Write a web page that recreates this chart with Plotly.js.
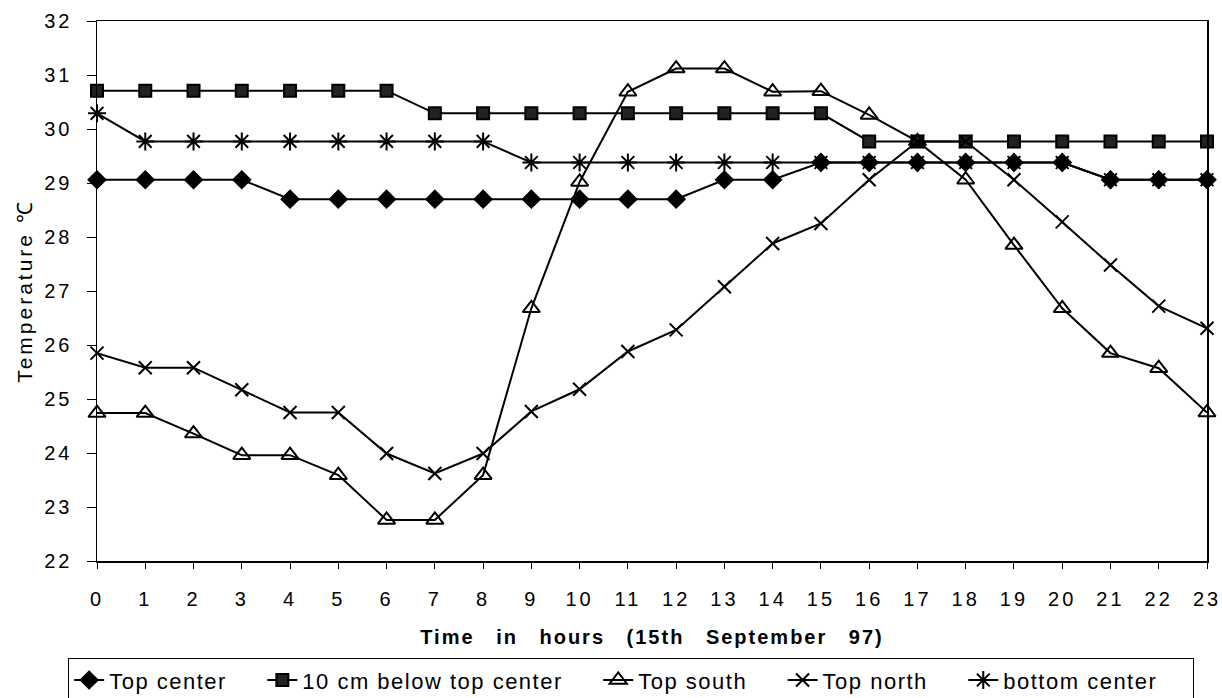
<!DOCTYPE html>
<html>
<head>
<meta charset="utf-8">
<script src="https://cdn.plot.ly/plotly-3.0.1.min.js"></script>
<style>
  html, body { margin: 0; padding: 0; background: #fff; }
  #chart { width: 1222px; height: 698px; }
  .xtick text, .ytick text { letter-spacing: 3px !important; }
  .g-xtitle text { letter-spacing: 2px; word-spacing: 14px; }
  .g-ytitle text { letter-spacing: 3px; }
  .legendtext { letter-spacing: 1.5px; }
</style>
</head>
<body>
<div id="chart"></div>
<script>
const hours = [0,1,2,3,4,5,6,7,8,9,10,11,12,13,14,15,16,17,18,19,20,21,22,23];
const seriesNames = ["Top center", "10 cm below top center", "Top south", "Top north", "bottom center"];

const topCenter = [29.06,29.06,29.06,29.06,28.70,28.70,28.70,28.70,28.70,28.70,28.70,28.70,28.70,29.06,29.06,29.38,29.38,29.38,29.38,29.38,29.38,29.06,29.06,29.06];
const below10cm = [30.71,30.71,30.71,30.71,30.71,30.71,30.71,30.29,30.29,30.29,30.29,30.29,30.29,30.29,30.29,30.29,29.77,29.77,29.77,29.77,29.77,29.77,29.77,29.77];
const topSouth  = [24.74,24.74,24.36,23.96,23.96,23.59,22.76,22.76,23.59,26.68,29.02,30.69,31.12,31.12,30.69,30.70,30.26,29.77,29.06,27.85,26.68,25.85,25.57,24.75];
const topNorth  = [25.85,25.58,25.58,25.17,24.75,24.75,23.99,23.62,23.99,24.77,25.18,25.88,26.28,27.08,27.88,28.25,29.06,29.77,29.77,29.06,28.28,27.48,26.72,26.31];
const bottomCenter = [30.29,29.77,29.77,29.77,29.77,29.77,29.77,29.77,29.77,29.38,29.38,29.38,29.38,29.38,29.38,29.38,29.38,29.38,29.38,29.38,29.38,29.06,29.06,29.06];

const yTicks = [22,23,24,25,26,27,28,29,30,31,32];

const FONT = "Liberation Sans, Arial, sans-serif";
const lineStyle = {color: "#000", width: 2};
const PAD = "\u00a0\u00a0\u00a0\u00a0";

function mk(name, y, symbol, size, fill) {
  return {
    type: "scatter", mode: "lines+markers", name: name + PAD,
    x: hours, y: y, cliponaxis: false,
    line: lineStyle,
    marker: {symbol: symbol, size: size, color: fill, line: {color: "#000", width: 2}}
  };
}

const data = [
  mk(seriesNames[0], topCenter, "diamond", 13, "#000"),
  mk(seriesNames[1], below10cm, "square", 12, "#222"),
  mk(seriesNames[2], topSouth, "triangle-up-open", 15, "#000"),
  mk(seriesNames[3], topNorth, "x-thin-open", 13, "#000"),
  mk(seriesNames[4], bottomCenter, "asterisk-open", 15, "#000")
];

const layout = {
  width: 1222, height: 698,
  margin: {l: 97, r: 15, t: 21, b: 137, autoexpand: false},
  paper_bgcolor: "#fff", plot_bgcolor: "#fff",
  font: {family: FONT, color: "#000", size: 20},
  showlegend: true,
  xaxis: {
    range: [0, 23], tickvals: hours, ticktext: hours.map(String),
    showgrid: false, zeroline: false,
    showline: true, mirror: true, linecolor: "#000", linewidth: 1.5,
    ticks: "outside", ticklen: 6, tickcolor: "#000", tickwidth: 1,
    ticklabelstandoff: 13,
    tickfont: {family: FONT, size: 20, color: "#000"},
    title: {text: "<b>Time in hours (15th September 97)</b>", font: {family: FONT, size: 20, color: "#000"}, standoff: 21}
  },
  yaxis: {
    range: [22, 32], tickvals: yTicks, ticktext: yTicks.map(String),
    showgrid: false, zeroline: false,
    showline: true, mirror: true, linecolor: "#000", linewidth: 1.5,
    ticks: "outside", ticklen: 9, tickcolor: "#000", tickwidth: 1,
    ticklabelstandoff: 10,
    tickfont: {family: FONT, size: 20, color: "#000"},
    title: {text: "Temperature ℃", font: {family: FONT, size: 21, color: "#000"}, standoff: 6}
  },
  legend: {
    orientation: "h", x: -0.026, xanchor: "left", y: -0.18, yanchor: "top",
    bordercolor: "#000", borderwidth: 1, bgcolor: "#fff",
    font: {family: FONT, size: 22, color: "#000"},
    itemwidth: 30, tracegroupgap: 0
  }
};

Plotly.newPlot("chart", data, layout, {displayModeBar: false, staticPlot: true});
</script>
</body>
</html>
